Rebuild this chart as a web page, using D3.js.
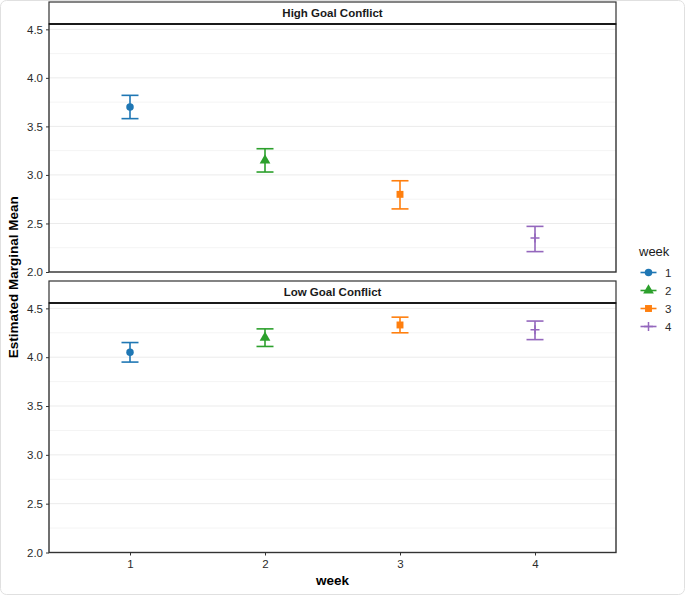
<!DOCTYPE html>
<html>
<head>
<meta charset="utf-8">
<script src="https://cdn.jsdelivr.net/npm/d3@7"></script>
<style>
  body { margin: 0; background: #fff; }
  text { font-family: "Liberation Sans", Arial, sans-serif; }
</style>
</head>
<body>
<div id="chart"></div>
<script>
var weeks = ["1", "2", "3", "4"];
var panels = ["High Goal Conflict", "Low Goal Conflict"];
// estimated marginal means and CI bounds, per panel, per week
var highMean = [3.70, 3.15, 2.80, 2.35];
var highLow  = [3.58, 3.03, 2.65, 2.21];
var highHigh = [3.82, 3.27, 2.94, 2.47];
var lowMean  = [4.05, 4.20, 4.33, 4.28];
var lowLow   = [3.95, 4.11, 4.25, 4.18];
var lowHigh  = [4.15, 4.29, 4.41, 4.37];
var yTicks = [2.0, 2.5, 3.0, 3.5, 4.0, 4.5];
var yMinor = [2.25, 2.75, 3.25, 3.75, 4.25];
var colors = ["#1f77b4", "#2ca02c", "#ff7f0e", "#9467bd"];
var shapes = [d3.symbolCircle, d3.symbolTriangle, d3.symbolSquare, "plus"];

var W = 685, H = 595;
var left = 49, right = 616;
var panelBoxes = [
  { stripTop: 2, top: 24, bottom: 272 },
  { stripTop: 281, top: 303, bottom: 552.5 }
];
var panelData = [
  { mean: highMean, lo: highLow, hi: highHigh },
  { mean: lowMean, lo: lowLow, hi: lowHigh }
];

var svg = d3.select("#chart").append("svg")
  .attr("width", W).attr("height", H);

svg.append("rect")
  .attr("x", 0.5).attr("y", 0.5)
  .attr("width", W - 1).attr("height", H - 1)
  .attr("rx", 6)
  .attr("fill", "#fff").attr("stroke", "#e0e0e0");

var x = d3.scalePoint().domain(weeks).range([left, right]).padding(0.6);

function drawSymbol(g, i, cx, cy, size) {
  if (shapes[i] === "plus") {
    var h = size;
    g.append("path")
      .attr("d", "M" + (cx - h) + "," + cy + "H" + (cx + h) + "M" + cx + "," + (cy - h) + "V" + (cy + h))
      .attr("stroke", colors[i]).attr("stroke-width", 1.5).attr("fill", "none");
  } else {
    var area = i === 0 ? 44 : (i === 1 ? 50 : 48);
    g.append("path")
      .attr("d", d3.symbol().type(shapes[i]).size(area)())
      .attr("transform", "translate(" + cx + "," + cy + ")")
      .attr("fill", colors[i]);
  }
}

panelBoxes.forEach(function(b, p) {
  var y = d3.scaleLinear().domain([2.0, 4.555]).range([b.bottom, b.top]);
  var g = svg.append("g");

  // grid
  g.selectAll(".minor").data(yMinor).enter().append("line")
    .attr("x1", left).attr("x2", right)
    .attr("y1", function(d) { return y(d); }).attr("y2", function(d) { return y(d); })
    .attr("stroke", "#f4f4f4").attr("stroke-width", 1);
  g.selectAll(".major").data(yTicks).enter().append("line")
    .attr("x1", left).attr("x2", right)
    .attr("y1", function(d) { return y(d); }).attr("y2", function(d) { return y(d); })
    .attr("stroke", "#ebebeb").attr("stroke-width", 1);

  // y axis
  var yAxis = g.append("g")
    .attr("transform", "translate(" + left + ",0)")
    .call(d3.axisLeft(y).tickValues(yTicks).tickFormat(d3.format(".1f")).tickSize(3).tickPadding(3));
  yAxis.select(".domain").remove();
  yAxis.selectAll(".tick line").attr("stroke", "#333");
  yAxis.selectAll(".tick text").attr("fill", "#2b2b2b").style("font-size", "11.5px");

  // error bars + points
  var d = panelData[p];
  weeks.forEach(function(w, i) {
    var cx = x(w);
    var eg = g.append("g").attr("stroke", colors[i]).attr("stroke-width", 1.6);
    eg.append("line").attr("x1", cx).attr("x2", cx).attr("y1", y(d.lo[i])).attr("y2", y(d.hi[i]));
    eg.append("line").attr("x1", cx - 8.5).attr("x2", cx + 8.5).attr("y1", y(d.lo[i])).attr("y2", y(d.lo[i]));
    eg.append("line").attr("x1", cx - 8.5).attr("x2", cx + 8.5).attr("y1", y(d.hi[i])).attr("y2", y(d.hi[i]));
    drawSymbol(g, i, cx, y(d.mean[i]), 4.5);
  });

  // panel border
  g.append("rect")
    .attr("x", left).attr("y", b.top)
    .attr("width", right - left).attr("height", b.bottom - b.top)
    .attr("fill", "none").attr("stroke", "#333").attr("stroke-width", 1.4);

  // strip
  g.append("rect")
    .attr("x", left).attr("y", b.stripTop)
    .attr("width", right - left).attr("height", b.top - b.stripTop)
    .attr("fill", "#fff").attr("stroke", "#333").attr("stroke-width", 1.2);
  g.append("line")
    .attr("x1", left).attr("x2", right).attr("y1", b.top).attr("y2", b.top)
    .attr("stroke", "#1a1a1a").attr("stroke-width", 2);
  g.append("text")
    .attr("x", (left + right) / 2).attr("y", (b.stripTop + b.top) / 2 + 4)
    .attr("text-anchor", "middle")
    .style("font-size", "11.5px").style("font-weight", "bold").attr("fill", "#1a1a1a")
    .text(panels[p]);

  if (p === 1) {
    var xAxis = g.append("g")
      .attr("transform", "translate(0," + b.bottom + ")")
      .call(d3.axisBottom(x).tickSize(3).tickPadding(4));
    xAxis.select(".domain").remove();
    xAxis.selectAll(".tick line").attr("stroke", "#333");
    xAxis.selectAll(".tick text").attr("fill", "#2b2b2b").style("font-size", "11.5px");
  }
});

// axis titles
svg.append("text")
  .attr("transform", "translate(18," + ((panelBoxes[0].stripTop + panelBoxes[1].bottom) / 2) + ") rotate(-90)")
  .attr("text-anchor", "middle")
  .style("font-size", "13.5px").style("font-weight", "bold")
  .text("Estimated Marginal Mean");
svg.append("text")
  .attr("x", (left + right) / 2).attr("y", 585)
  .attr("text-anchor", "middle")
  .style("font-size", "13.5px").style("font-weight", "bold")
  .text("week");

// legend
var lg = svg.append("g");
lg.append("text").attr("x", 639).attr("y", 256)
  .style("font-size", "13px").attr("fill", "#1a1a1a").text("week");
weeks.forEach(function(w, i) {
  var cy = 272.5 + i * 18;
  lg.append("line").attr("x1", 640.5).attr("x2", 656.5).attr("y1", cy).attr("y2", cy)
    .attr("stroke", colors[i]).attr("stroke-width", 1.6);
  drawSymbol(lg, i, 648.5, cy, 4.5);
  lg.append("text").attr("x", 665).attr("y", cy + 4)
    .style("font-size", "11.5px").attr("fill", "#2b2b2b").text(w);
});
</script>
</body>
</html>
